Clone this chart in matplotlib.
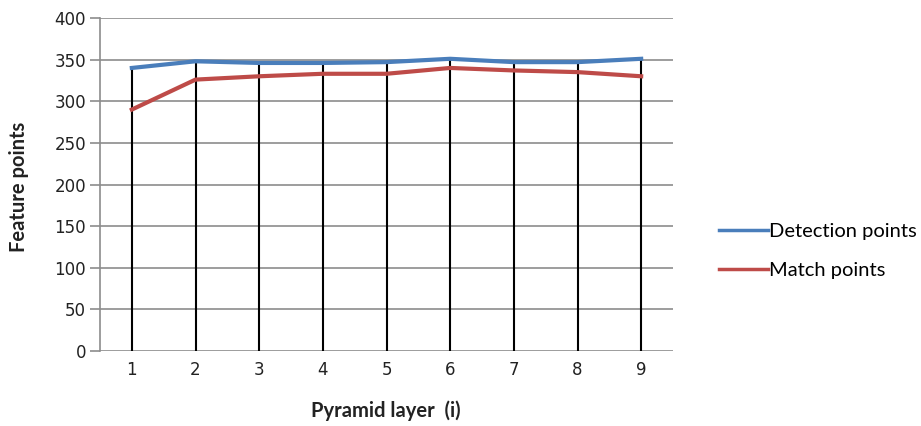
import numpy as np
import matplotlib.pyplot as plt
from matplotlib.lines import Line2D

layers = [1, 2, 3, 4, 5, 6, 7, 8, 9]
detection = [340, 348, 346, 346, 347, 351, 347, 347, 351]
match = [290, 326, 330, 333, 333, 340, 337, 335, 330]
yticks = [0, 50, 100, 150, 200, 250, 300, 350, 400]

blue = '#4a7ebb'
red = '#be4b48'
grid_col = '#8c8c8c'

fig = plt.figure(figsize=(9.21, 4.26), dpi=100)
ax = fig.add_axes([100/921, 1-351/426, 573/921, 333/426])

for v in yticks:
    ax.axhline(v, color=grid_col, lw=1.2, zorder=1)

# drop lines from the highest series down to the axis
top = np.maximum(detection, match)
ax.vlines(layers, 0, top, color='black', lw=1.5, zorder=2)

ax.plot(layers, detection, color=blue, lw=3, zorder=3)
ax.plot(layers, match, color=red, lw=3, zorder=3)

ax.set_xlim(0.5, 9.5)
ax.set_ylim(0, 400)
ax.set_xticks(layers)
ax.set_yticks(yticks)
ax.tick_params(axis='x', length=0, pad=7, labelsize=12, labelcolor='#222222')
ax.tick_params(axis='y', length=7, color=grid_col, width=1.2, pad=3, labelsize=12, labelcolor='#222222')
for s in ['top', 'right', 'bottom']:
    ax.spines[s].set_visible(False)
ax.spines['left'].set_color(grid_col)
ax.spines['left'].set_linewidth(1.2)

fig.text(19/921, 1-187/426, 'Feature points', rotation=90, ha='center', va='center',
         fontsize=14.5, fontweight='bold', family='Lato', color='#222222')
fig.text(386/921, 1-411/426, 'Pyramid layer  (i)', ha='center', va='center',
         fontsize=14.5, fontweight='bold', family='Lato', color='#222222')

handles = [Line2D([], [], color=blue, lw=2.5), Line2D([], [], color=red, lw=2.5)]
fig.legend(handles, ['Detection points', 'Match points'], loc='center left',
           bbox_to_anchor=(709/921, 1-251/426), frameon=False,
           handlelength=2.45, handletextpad=0.05, labelspacing=1.05, borderpad=0,
           prop={'family': 'Lato', 'size': 14.5})

fig.savefig('out.png', dpi=100)
